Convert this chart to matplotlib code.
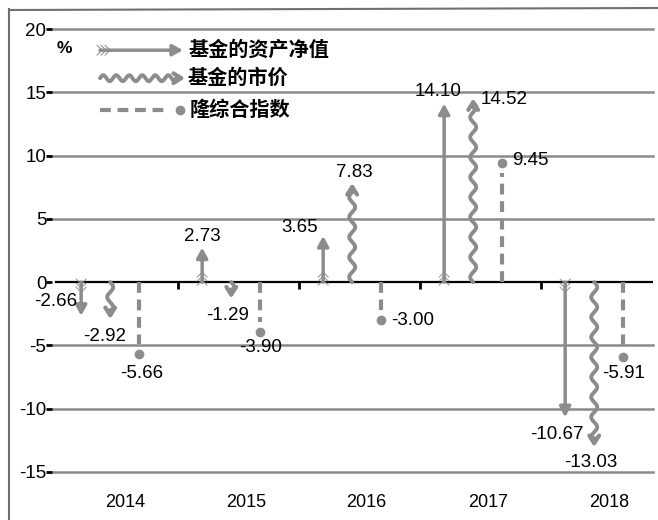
"""Hand-drawn style arrow chart: fund NAV / market price / index returns 2014-2018."""
import numpy as np
import matplotlib
matplotlib.use("Agg")
import matplotlib.pyplot as plt
from matplotlib.lines import Line2D

years = ["2014", "2015", "2016", "2017", "2018"]
nav = [-2.66, 2.73, 3.65, 14.10, -10.67]
price = [-2.92, -1.29, 7.83, 14.52, -13.03]
index = [-5.66, -3.90, -3.00, 9.45, -5.91]
names = ["基金的资产净值", "基金的市价", "隆综合指数"]
yticks = [20, 15, 10, 5, 0, -5, -10, -15]

GRAY = "#8c8c8c"
PX_X = 121.0   # pixels per category
PX_Y = 12.66   # pixels per percent point

# label offsets in pixels (dx, dy, ha) relative to the arrow tip
nav_lab = [(-25, 14, "center"), (0, 11, "center"), (-24, 8, "center"),
           (-6, 12, "center"), (-8, -17, "center")]
price_lab = [(-6, -17, "center"), (-4, -17, "center"), (2, 11, "center"),
             (7, -1, "left"), (-3, -15, "center")]
index_lab = [(2, -20, "center"), (0, -16, "center"), (10, 0, "left"),
             (10, 2, "left"), (0, -17, "center")]

plt.rcParams['font.family'] = ['Liberation Sans', 'Noto Sans CJK SC']

fig = plt.figure(figsize=(6.58, 5.20), dpi=100)
ax = fig.add_axes([52 / 658, 1 - 472 / 520, 601 / 658, 443 / 520])
ax.set_xlim(-0.541, -0.541 + 601 / PX_X)
ax.set_ylim(-15, 20)


def pt(x0, y0, d, along, across=0.0):
    ux, uy = d
    nx, ny = -uy, ux
    return (x0 + (along * ux + across * nx) / PX_X,
            y0 + (along * uy + across * ny) / PX_Y)


def straight(x0, y0, d, L):
    ax.annotate("", xy=pt(x0, y0, d, L), xytext=(x0, y0),
                arrowprops=dict(arrowstyle="-|>,head_length=0.6,head_width=0.33",
                                color=GRAY, lw=2.5, shrinkA=0, shrinkB=0))
    # feathered tail
    for k in range(3):
        a = 2 + 4 * k
        for s in (-1, 1):
            p1 = pt(x0, y0, d, a)
            p2 = pt(x0, y0, d, a - 5, s * 5)
            ax.plot([p1[0], p2[0]], [p1[1], p2[1]], color=GRAY, lw=0.9,
                    alpha=0.8, solid_capstyle="round")


def wavy(x0, y0, d, L, wl=20.0):
    s = np.linspace(0, L - 7, 200)
    a = 3.0 * np.sin(2 * np.pi * s / wl)
    xs, ys = pt(x0, y0, d, s, a)
    ax.plot(xs, ys, color=GRAY, lw=2.8, solid_capstyle="round")
    ax.annotate("", xy=pt(x0, y0, d, L), xytext=pt(x0, y0, d, L - 9),
                arrowprops=dict(arrowstyle="->,head_length=0.55,head_width=0.35",
                                color=GRAY, lw=3.0, shrinkA=0, shrinkB=0))


def dashed(x0, y0, d, L):
    p1 = pt(x0, y0, d, L - 10)
    ax.plot([x0, p1[0]], [y0, p1[1]], color=GRAY, lw=3.0,
            dashes=(2.6, 1.6), solid_capstyle="round")
    p2 = pt(x0, y0, d, L)
    ax.plot([p2[0]], [p2[1]], "o", color=GRAY, ms=7, mec="none")


# grid
for t in yticks:
    if t == 0:
        continue
    ax.axhline(t, color="#8a8a8a", lw=1.8, clip_on=False, zorder=0)
ax.axhline(0, xmin=4 / 601, color="black", lw=1.6, zorder=1)
ax.plot(np.arange(len(years) - 1) + 0.5, [0] * (len(years) - 1), ls="none",
        marker=3, ms=5, mew=2, color="black", zorder=1)

# series
offs = [-0.30, -0.06, 0.18]
drawers = [straight, wavy, dashed]
for j, (vals, labs) in enumerate([(nav, nav_lab), (price, price_lab),
                                  (index, index_lab)]):
    for i, v in enumerate(vals):
        x = i + offs[j]
        d = (0, 1) if v > 0 else (0, -1)
        drawers[j](x, 0, d, abs(v) * PX_Y)
        dx, dy, ha = labs[i]
        ax.annotate(f"{v:.2f}", xy=(x, v), xytext=(dx, dy),
                    textcoords="offset pixels", ha=ha, va="center",
                    fontsize=13.5, color="black")

# legend
lx0 = -0.541 + (100 - 52) / PX_X
ly = [(282 - 50) / PX_Y, (282 - 78) / PX_Y, (282 - 110) / PX_Y]
straight(lx0, ly[0], (1, 0), 83)
wavy(lx0, ly[1], (1, 0), 85, wl=13.0)
dashed(lx0, ly[2], (1, 0), 80)
tx = [lx0 + 89 / PX_X, lx0 + 88 / PX_X, lx0 + 90 / PX_X]
for k in range(3):
    ax.text(tx[k], ly[k], names[k], fontsize=14.5, fontweight="bold",
            va="center", ha="left")
ax.text(-0.541 + 5 / PX_X, (282 - 48) / PX_Y, "%", fontsize=12.5,
        fontweight="bold", va="center", ha="left")

# axes styling
for sp in ax.spines.values():
    sp.set_visible(False)
ax.set_yticks(yticks)
ax.set_yticklabels([str(t) for t in yticks], fontsize=13.5)
ax.tick_params(axis="y", length=4, width=2, color="black", pad=0)
ax.set_xticks(np.arange(len(years)) + 0.06)
ax.set_xticklabels(years, fontsize=13)
ax.tick_params(axis="x", length=0, pad=16)

# hand-drawn frame
fig.add_artist(Line2D([9 / 658, 9 / 658], [0, 1 - 9 / 520],
                      transform=fig.transFigure, color="#707070", lw=1.5))
fig.add_artist(Line2D([9 / 658, 1], [1 - 10 / 520, 1 - 8 / 520],
                      transform=fig.transFigure, color="#707070", lw=1.5))

fig.savefig("out.png", dpi=100)
